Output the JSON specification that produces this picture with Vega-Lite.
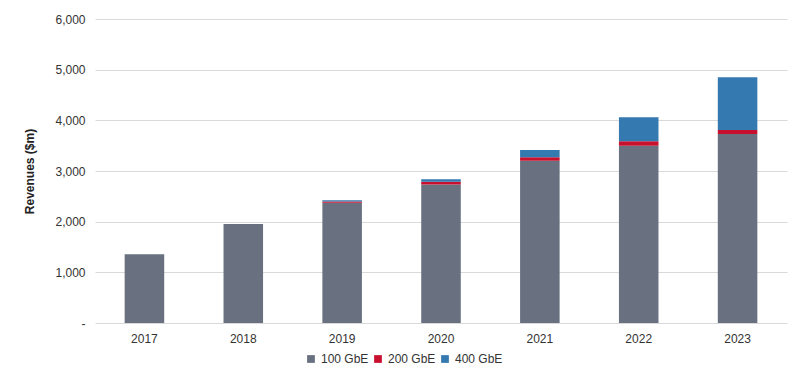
{
  "$schema": "https://vega.github.io/schema/vega-lite/v6.json",
  "autosize": "none",
  "width": 692,
  "height": 304,
  "padding": {"left": 95, "top": 19, "right": 13, "bottom": 51},
  "background": "white",
  "config": {
    "font": "Liberation Sans",
    "view": {"stroke": null},
    "axis": {"labelColor": "#333333", "titleColor": "#222222", "labelFont": "Liberation Sans", "titleFont": "Liberation Sans"}
  },
  "data": {
    "values": [
      {"year": "2017", "type": "100 GbE", "rev": 1355},
      {"year": "2017", "type": "200 GbE", "rev": 0},
      {"year": "2017", "type": "400 GbE", "rev": 0},
      {"year": "2018", "type": "100 GbE", "rev": 1955},
      {"year": "2018", "type": "200 GbE", "rev": 0},
      {"year": "2018", "type": "400 GbE", "rev": 0},
      {"year": "2019", "type": "100 GbE", "rev": 2375},
      {"year": "2019", "type": "200 GbE", "rev": 25},
      {"year": "2019", "type": "400 GbE", "rev": 25},
      {"year": "2020", "type": "100 GbE", "rev": 2735},
      {"year": "2020", "type": "200 GbE", "rev": 55},
      {"year": "2020", "type": "400 GbE", "rev": 45},
      {"year": "2021", "type": "100 GbE", "rev": 3200},
      {"year": "2021", "type": "200 GbE", "rev": 70},
      {"year": "2021", "type": "400 GbE", "rev": 145},
      {"year": "2022", "type": "100 GbE", "rev": 3500},
      {"year": "2022", "type": "200 GbE", "rev": 86},
      {"year": "2022", "type": "400 GbE", "rev": 474},
      {"year": "2023", "type": "100 GbE", "rev": 3730},
      {"year": "2023", "type": "200 GbE", "rev": 80},
      {"year": "2023", "type": "400 GbE", "rev": 1040}
    ]
  },
  "mark": {"type": "bar"},
  "encoding": {
    "x": {
      "field": "year", "type": "nominal", "title": null,
      "scale": {"paddingInner": 0.6, "paddingOuter": 0.3},
      "axis": {"labelAngle": 0, "ticks": false, "domain": false, "labelFontSize": 12, "labelPadding": 10, "grid": false}
    },
    "y": {
      "field": "rev", "type": "quantitative", "stack": "zero",
      "title": "Revenues ($m)",
      "scale": {"domain": [0, 6000]},
      "axis": {
        "values": [0, 1000, 2000, 3000, 4000, 5000, 6000],
        "labelExpr": "datum.value === 0 ? '-' : format(datum.value, ',')",
        "ticks": false, "domain": false, "labelFontSize": 12, "labelPadding": 10,
        "gridColor": "#d9d9d9", "gridWidth": 1,
        "titleFontSize": 12, "titleFontWeight": "bold", "titlePadding": 18
      }
    },
    "color": {
      "field": "type", "type": "nominal", "title": null,
      "scale": {"domain": ["100 GbE", "200 GbE", "400 GbE"], "range": ["#69707f", "#c8102e", "#3579b1"]},
      "legend": {"orient": "none", "legendX": 210, "legendY": 334, "direction": "horizontal", "symbolType": "square", "symbolSize": 60, "labelFontSize": 12, "labelOffset": 4, "columnPadding": 3, "labelColor": "#333333", "symbolStrokeWidth": 0}
    },
    "order": {"field": "type", "sort": "ascending"}
  }
}
